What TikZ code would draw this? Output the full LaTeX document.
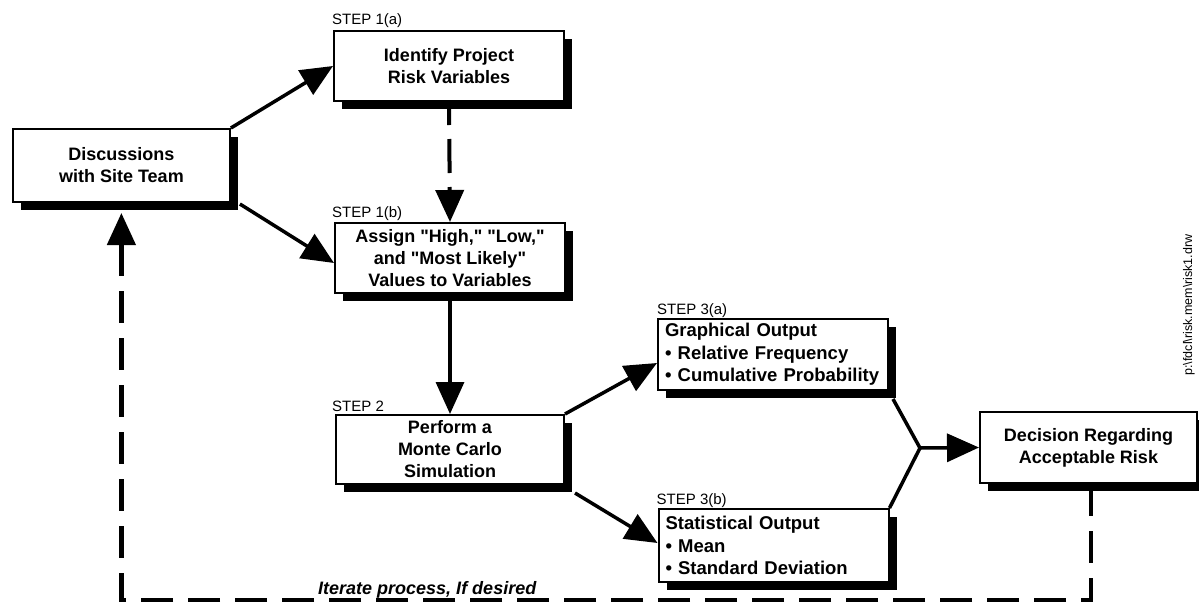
\documentclass[tikz,border=0pt]{standalone}
\usepackage{fontspec}
\setmainfont{Liberation Sans}[Ligatures=TeXOff]
\usetikzlibrary{arrows.meta,shadows,calc}
\begin{document}
\begin{tikzpicture}[x=1pt,y=-1pt,
  box/.style={draw, line width=2pt, fill=white, inner sep=0pt, align=center,
    font=\fontsize{18}{22}\selectfont\bfseries,
    drop shadow={shadow xshift=8pt, shadow yshift=-8pt, fill=black, opacity=1}},
  listbox/.style={box, align=left, text width=216pt, inner xsep=7pt,
    minimum width=230pt, font=\fontsize{18.5}{22.5}\selectfont\bfseries},
  steplabel/.style={anchor=base west, inner sep=0pt, font=\fontsize{15}{16}\selectfont},
  flow/.style={line width=3.5pt, -{Triangle[length=32pt,width=28pt]}},
  feedback/.style={line width=4.5pt, dash pattern=on 32pt off 15pt},
]
\useasboundingbox (0,0) rectangle (1199,603);

% process boxes
\node[box, minimum width=217pt, minimum height=73pt] (disc) at (121.4,165.5) {Discussions\\with Site Team};
\node[box, minimum width=230pt, minimum height=70pt] (ident) at (449,66) {Identify Project\\Risk Variables};
\node[box, minimum width=230pt, minimum height=70pt] (assign) at (450,258) {Assign "High," "Low,"\\and "Most Likely"\\Values to Variables};
\node[box, minimum width=228pt, minimum height=69pt] (perform) at (450,449.5) {Perform a\\Monte Carlo\\Simulation};
\node[listbox, minimum height=71pt] (graph) at (773,354.5) {Graphical Output\\\textbullet{} Relative Frequency\\\textbullet{} Cumulative Probability};
\node[listbox, minimum height=73pt] (stat) at (773.5,545.5) {Statistical Output\\\textbullet{} Mean\\\textbullet{} Standard Deviation};
\node[box, minimum width=217pt, minimum height=71pt] (dec) at (1088.5,447.5) {Decision Regarding\\Acceptable Risk};

% step labels
\node[steplabel] (s1a) at ($(ident.north west)+(-1,-6)$) {STEP 1(a)};
\node[steplabel] (s1b) at ($(assign.north west)+(-2,-5)$) {STEP 1(b)};
\node[steplabel] (s2) at ($(perform.north west)+(-3,-3)$) {STEP 2};
\node[steplabel] (s3a) at ($(graph.north west)+(0,-4)$) {STEP 3(a)};
\node[steplabel] (s3b) at ($(stat.north west)+(-1,-4)$) {STEP 3(b)};

% solid flow arrows
\draw[flow] (disc.north east) -- (ident.west);
\draw[flow] ($(disc.south east)+(9,1)$) -- ($(assign.west)+(0,5)$);
\draw[flow, line width=4pt, dash pattern=on 34pt off 14pt, dash phase=11pt] (ident.south) -- (assign.north);
\draw[flow] (assign.south) -- (perform.north);
\draw[flow] (perform.north east) -- ($(graph.west)+(0,8.5)$);
\draw[flow] ($(perform.south east)+(10,8)$) -- ($(stat.west)+(0,-2.5)$);

% merge into the decision box
\coordinate (J) at (920,448);
\draw[line width=3.5pt] ($(graph.south east)+(4,8)$) -- (J) -- (stat.north east);
\draw[flow] (J) -- (dec.west);

% iteration loop back to the team discussions
\coordinate (fbR) at ($(dec.south |- 0,600)+(2.5,0)$);
\coordinate (fbL) at (disc.south |- 0,600);
\draw[feedback, -{Triangle[length=32pt,width=28pt]}] ($(dec.south)+(2.5,0)$) -- (fbR) -- (fbL) -- ($(disc.south)+(0,10)$);
\node[anchor=base west, inner sep=0pt, font=\fontsize{18}{20}\selectfont\bfseries\itshape] (iter) at (318,594) {Iterate process, If desired};

% drawing file name
\node[rotate=90, inner sep=0pt, font=\fontsize{12.5}{14}\selectfont] (fname) at (1189,305) {p:\textbackslash fdcl\textbackslash risk.mem\textbackslash risk1.drw};
\end{tikzpicture}
\end{document}
